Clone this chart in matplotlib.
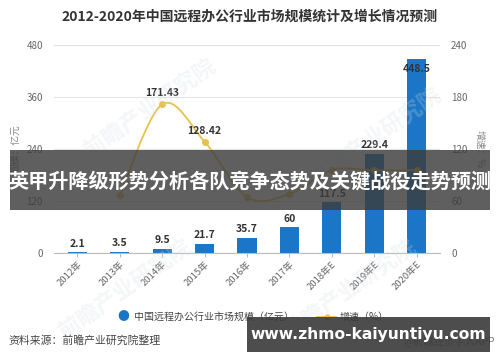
import numpy as np
import matplotlib.pyplot as plt
from matplotlib.path import Path
from matplotlib.patches import PathPatch, Rectangle

plt.rcParams['font.family'] = ['Noto Sans CJK SC', 'DejaVu Sans']
plt.rcParams['axes.unicode_minus'] = False

# 데이터
years = ['2012年', '2013年', '2014年', '2015年', '2016年', '2017年', '2018年E', '2019年E', '2020年E']
market = [2.1, 3.5, 9.5, 21.7, 35.7, 60, 117.5, 229.4, 448.5]
growth = [None, 66.67, 171.43, 128.42, 64.52, 68.07, 95.83, 95.23, 95.51]
growth_labels = {2: '171.43', 3: '128.42'}

left_ticks = [0, 120, 240, 360, 480]
right_ticks = [0, 60, 120, 180, 240]

bar_color = '#1b76c7'
line_color = '#e6c24a'
grey = '#666666'

fig = plt.figure(figsize=(5, 3.62), dpi=100)
ax = fig.add_axes([0.108, 0.301, 0.772, 0.575])
ax2 = ax.twinx()

# 워터마크 (흐리게)
for wx, wy in [(0.3, 0.7), (0.75, 0.62), (0.25, 0.2), (0.7, 0.2)]:
    fig.text(wx, wy, '前瞻产业研究院', fontsize=16, color='#d5dbe2', alpha=0.25,
             rotation=35, ha='center', va='center', fontweight='bold', zorder=0)

x = np.arange(len(years))
ax.bar(x, market, width=0.45, color=bar_color, zorder=2)
for i, v in enumerate(market):
    if v > 0.9 * left_ticks[-1]:
        ax.text(i, v - 12, f'{v:g}', ha='center', va='top', fontsize=7.5,
                fontweight='bold', color='#333333', zorder=5)
    else:
        ax.text(i, v + 8, f'{v:g}', ha='center', va='bottom', fontsize=7.5,
                fontweight='bold', color='#333333', zorder=5)

ax.set_ylim(0, 480)
ax.set_yticks(left_ticks)
ax.set_xlim(-0.55, len(years) - 0.45)
ax.set_xticks(x)
ax.set_xticklabels(years, rotation=45, ha='right', rotation_mode='anchor')
ax.grid(axis='y', color='#e3e3e3', linewidth=0.8, zorder=0)
ax.set_axisbelow(True)
ax.patch.set_alpha(0)
for s in ['top', 'left', 'right']:
    ax.spines[s].set_visible(False)
ax.spines['bottom'].set_color('#bbbbbb')
ax.tick_params(axis='y', length=0, labelsize=7, colors=grey, pad=8)
ax.tick_params(axis='x', length=3, color='#bbbbbb', labelsize=6.8, colors=grey, pad=2)
ax.set_ylabel('规模：亿元', fontsize=7, color='#888888', labelpad=4)

# 증속 (부드러운 곡선)
gx = [i for i, g in enumerate(growth) if g is not None]
gy = [g for g in growth if g is not None]
verts = [(gx[0], gy[0])]
codes = [Path.MOVETO]
n = len(gx)
for k in range(n - 1):
    p0 = (gx[max(k - 1, 0)], gy[max(k - 1, 0)])
    p1 = (gx[k], gy[k])
    p2 = (gx[k + 1], gy[k + 1])
    p3 = (gx[min(k + 2, n - 1)], gy[min(k + 2, n - 1)])
    c1 = (p1[0] + (p2[0] - p0[0]) / 6, p1[1] + (p2[1] - p0[1]) / 6)
    c2 = (p2[0] - (p3[0] - p1[0]) / 6, p2[1] - (p3[1] - p1[1]) / 6)
    verts += [c1, c2, p2]
    codes += [Path.CURVE4] * 3
ax2.add_patch(PathPatch(Path(verts, codes), facecolor='none', edgecolor=line_color,
                        linewidth=1.3, zorder=3))
ax2.plot(gx, gy, 'o', color=line_color, markersize=4, zorder=4)
for i, t in growth_labels.items():
    ax2.text(i, growth[i] + 7, t, ha='center', va='bottom', fontsize=7.5,
             fontweight='bold', color='#333333')

ax2.set_ylim(0, 240)
ax2.set_yticks(right_ticks)
for s in ax2.spines.values():
    s.set_visible(False)
ax2.tick_params(axis='y', length=0, labelsize=7, colors=grey, pad=8)
ax2.set_ylabel('增速：%', fontsize=7, color='#888888', rotation=270, labelpad=12)

fig.text(0.5, 0.955, '2012-2020年中国远程办公行业市场规模统计及增长情况预测',
         ha='center', va='center', fontsize=10, fontweight='bold', color='#333333')

# 범례
fig.text(0.247, 0.125, '●', ha='center', va='center', fontsize=8.5, color=bar_color)
fig.text(0.268, 0.125, '中国远程办公行业市场规模（亿元）', ha='left', va='center',
         fontsize=7.2, color='#444444')
fig.lines.append(plt.Line2D([0.634, 0.672], [0.125, 0.125], transform=fig.transFigure,
                            color=line_color, linewidth=1.3))
fig.lines.append(plt.Line2D([0.653], [0.125], transform=fig.transFigure, marker='o',
                            color=line_color, markersize=3.5))
fig.text(0.68, 0.125, '增速（%）', ha='left', va='center', fontsize=7.2, color='#444444')

fig.text(0.016, 0.06, '资料来源：前瞻产业研究院整理', ha='left', va='center',
         fontsize=7.8, color='#444444')
fig.text(0.99, 0.06, '@前瞻经济学人APP', ha='right', va='center',
         fontsize=7.5, color='#777777')

# 오버레이 배너
fig.patches.append(Rectangle((0.02, 0.42), 0.96, 0.165, transform=fig.transFigure,
                             facecolor='#3c3c3c', alpha=0.82, zorder=10))
fig.text(0.5, 0.5, '英甲升降级形势分析各队竞争态势及关键战役走势预测', ha='center',
         va='center', fontsize=14.5, fontweight='bold', color='white', zorder=11)
fig.patches.append(Rectangle((0.494, 0.028), 0.486, 0.095, transform=fig.transFigure,
                             facecolor='#3a3a3a', alpha=0.9, zorder=10))
fig.text(0.736, 0.077, 'www.zhmo-kaiyuntiyu.com', ha='center', va='center',
         fontsize=11.2, fontweight='bold', color='white', zorder=11, family='DejaVu Sans')

fig.savefig('out.png', dpi=100)
